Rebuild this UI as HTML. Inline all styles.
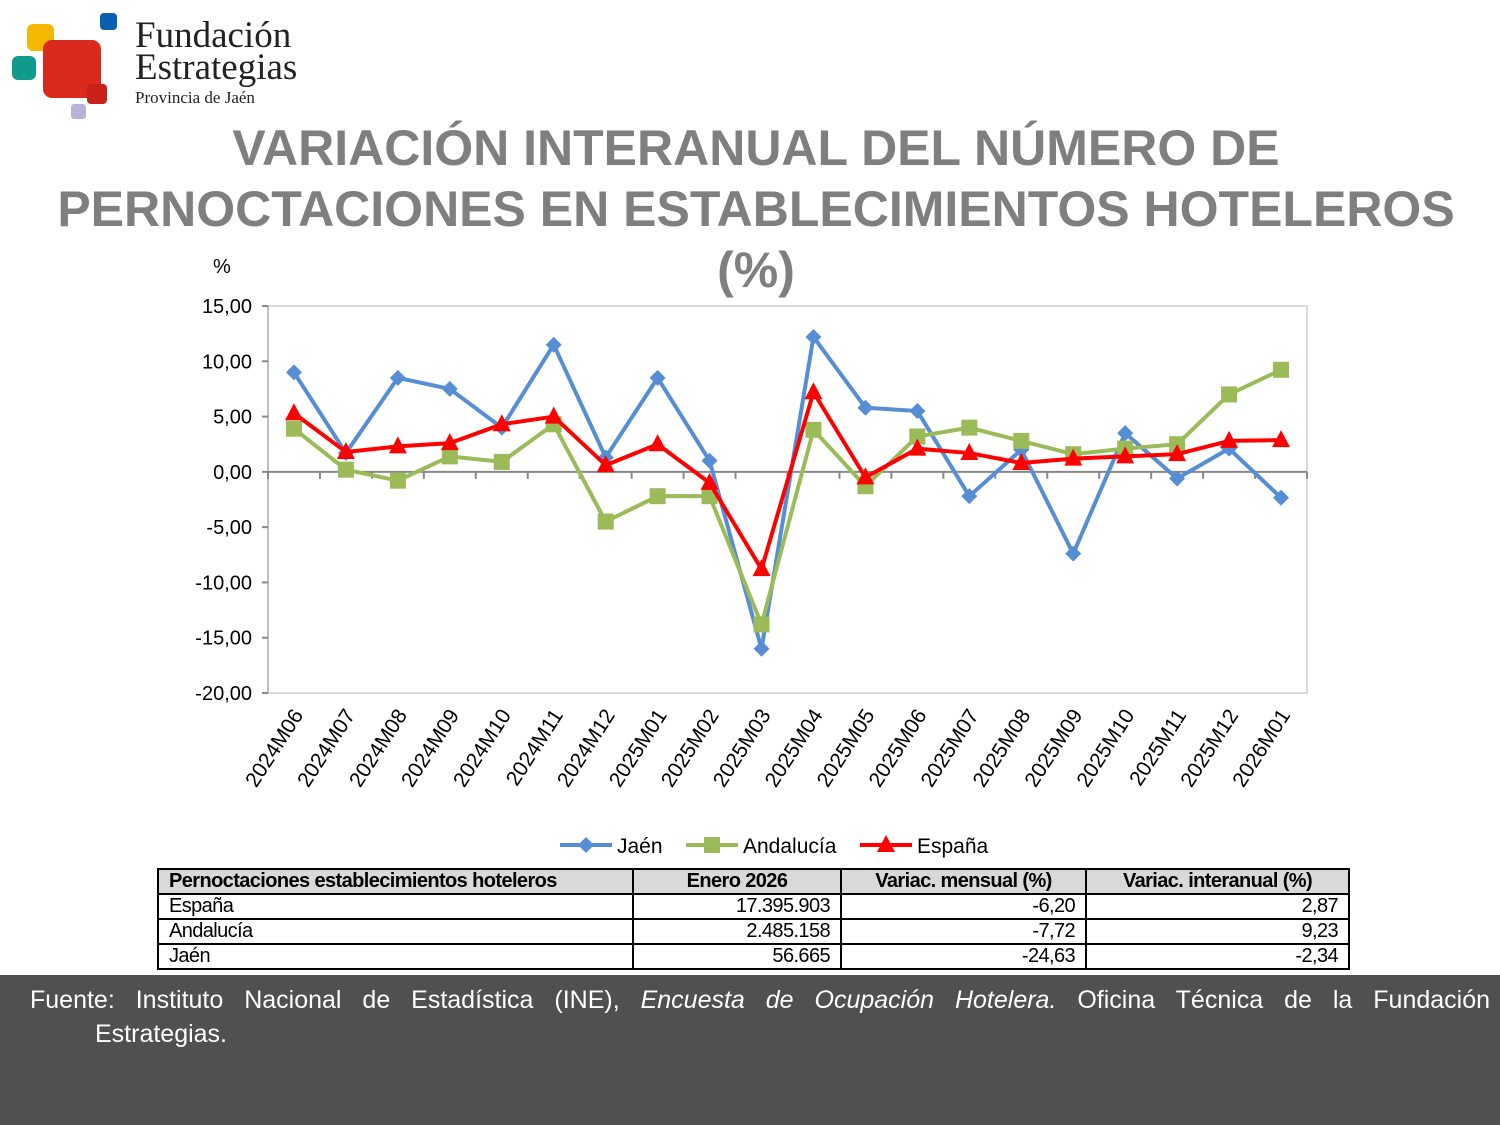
<!DOCTYPE html>
<html><head><meta charset="utf-8">
<style>
body{margin:0;width:1500px;height:1125px;background:#fff;position:relative;overflow:hidden;font-family:"Liberation Sans",sans-serif}
.abs{position:absolute}
table{border-collapse:collapse;position:absolute;left:157px;top:868px;width:1191px;table-layout:fixed;font-size:20px;letter-spacing:-0.6px}
td{border:2px solid #000;height:23px;padding:0 10px;line-height:23px;overflow:hidden;white-space:nowrap}
th{border:2px solid #000;height:23px;line-height:23px;background:#d9d9d9;font-size:20px;padding:0 10px;white-space:nowrap;overflow:hidden}
</style></head><body>
<div class="abs" style="left:0;top:0;width:320px;height:125px">
 <div class="abs" style="left:27px;top:24px;width:27px;height:27px;background:#f5b800;border-radius:6px"></div>
 <div class="abs" style="left:12px;top:56px;width:24px;height:24px;background:#0f9a8c;border-radius:6px"></div>
 <div class="abs" style="left:100px;top:13px;width:17px;height:17px;background:#0a5fb0;border-radius:4px"></div>
 <div class="abs" style="left:43px;top:40px;width:58px;height:58px;background:#dc291e;border-radius:9px"></div>
 <div class="abs" style="left:87px;top:84px;width:20px;height:20px;background:#c9201a;border-radius:4px"></div>
 <div class="abs" style="left:71px;top:104px;width:15px;height:15px;background:#b9b3da;border-radius:3px"></div>
 <div class="abs" style="left:135px;top:20px;font-family:'Liberation Serif',serif;color:#222;font-size:37px;line-height:32px">Fundación<br>Estrategias<div style="font-size:17px;line-height:20px;margin-top:4px">Provincia de Jaén</div></div>
</div>
<div class="abs" style="left:0;top:118px;width:1512px;text-align:center;font-weight:bold;font-size:50px;line-height:61px;color:#7f7f7f">VARIACIÓN INTERANUAL DEL NÚMERO DE<br>PERNOCTACIONES EN ESTABLECIMIENTOS HOTELEROS<br>(%)</div>
<svg class="abs" style="left:0;top:0" width="1500" height="870">
<g id="chart"></g>
</svg>
<table>
<colgroup><col style="width:475px"><col style="width:208px"><col style="width:245px"><col style="width:263px"></colgroup>
<tr><th style="text-align:left">Pernoctaciones establecimientos hoteleros</th><th>Enero 2026</th><th>Variac. mensual (%)</th><th>Variac. interanual (%)</th></tr>
<tr><td>España</td><td align="right">17.395.903</td><td align="right">-6,20</td><td align="right">2,87</td></tr>
<tr><td>Andalucía</td><td align="right">2.485.158</td><td align="right">-7,72</td><td align="right">9,23</td></tr>
<tr><td>Jaén</td><td align="right">56.665</td><td align="right">-24,63</td><td align="right">-2,34</td></tr>
</table>
<div class="abs" style="left:0;top:975px;width:1500px;height:150px;background:#505050;color:#fff;font-size:25px;line-height:34px">
<div style="padding:8px 10px 0 30px;text-align:justify;text-align-last:justify">Fuente: Instituto Nacional de Estadística (INE), <i>Encuesta de Ocupación Hotelera.</i> Oficina Técnica de la Fundación</div>
<div style="padding-left:95px">Estrategias.</div>
</div>
<script>
const categories=["2024M06","2024M07","2024M08","2024M09","2024M10","2024M11","2024M12","2025M01","2025M02","2025M03","2025M04","2025M05","2025M06","2025M07","2025M08","2025M09","2025M10","2025M11","2025M12","2026M01"];
const jaen=[9.0,1.7,8.5,7.5,4.0,11.5,1.3,8.5,1.0,-16.0,12.2,5.8,5.5,-2.2,2.0,-7.4,3.5,-0.6,2.1,-2.34];
const andalucia=[3.9,0.2,-0.8,1.4,0.9,4.3,-4.5,-2.2,-2.2,-13.8,3.8,-1.3,3.2,4.0,2.8,1.6,2.1,2.5,7.0,9.23];
const espana=[5.3,1.8,2.3,2.6,4.3,5.0,0.6,2.5,-1.0,-8.8,7.2,-0.5,2.1,1.7,0.8,1.2,1.4,1.6,2.8,2.87];
const yTicks=[15,10,5,0,-5,-10,-15,-20];
const yMin=-20,yMax=15;
const L=268,R=1307,T=306,B=693;
const ns="http://www.w3.org/2000/svg";
const g=document.getElementById('chart');
const bw=(R-L)/categories.length;
const xs=i=>L+bw*(i+0.5);
const ys=v=>T+(yMax-v)/(yMax-yMin)*(B-T);
function mk(t,a){const e=document.createElementNS(ns,t);for(const k in a)e.setAttribute(k,a[k]);g.appendChild(e);return e;}
let e=mk('rect',{x:L,y:T,width:R-L,height:B-T,fill:'none',stroke:'#d9d9d9','stroke-width':2});


mk('line',{x1:L,y1:T,x2:L,y2:B,stroke:'#bfbfbf','stroke-width':2});
yTicks.forEach(v=>{
 mk('line',{x1:L-6,y1:ys(v),x2:L,y2:ys(v),stroke:'#888','stroke-width':2});
 const t=mk('text',{x:L-16,y:ys(v)+7,'text-anchor':'end','font-size':20,fill:'#000'});
 t.textContent=v.toFixed(2).replace('.',',');
 
 
});
let u=mk('text',{x:213,y:273,'font-size':20});u.textContent='%';


mk('line',{x1:L,y1:ys(0),x2:R,y2:ys(0),stroke:'#888','stroke-width':2});
for(let i=0;i<=categories.length;i++){mk('line',{x1:L+bw*i,y1:ys(0),x2:L+bw*i,y2:ys(0)+7,stroke:'#888','stroke-width':2});}
categories.forEach((c,i)=>{
 const t=mk('text',{x:xs(i)+10,y:715,'text-anchor':'end','font-size':21,transform:`rotate(-57 ${xs(i)+10} 715)`});
 t.textContent=c;
 
 
});
function marker(type,x,y,col,sz){
 if(type==='d')return mk('polygon',{points:`${x},${y-8} ${x+8},${y} ${x},${y+8} ${x-8},${y}`,fill:col});
 if(type==='s')return mk('rect',{x:x-8,y:y-8,width:16,height:16,fill:col});
 return mk('polygon',{points:`${x},${y-10} ${x+9},${y+7} ${x-9},${y+7}`,fill:col});
}
function series(arr,col,type,name){
 const p=mk('polyline',{points:arr.map((v,i)=>xs(i)+','+ys(v)).join(' '),fill:'none',stroke:col,'stroke-width':4,'stroke-linejoin':'round'});
 
 
 arr.forEach((v,i)=>{const m=marker(type,xs(i),ys(v),col);
  
  });
}
series(jaen,'#558ed5','d','jaen');
series(andalucia,'#9bbb59','s','andalucia');
series(espana,'#ff0000','t','espana');
const leg=[['Jaén','#558ed5','d',560],['Andalucía','#9bbb59','s',686],['España','#ff0000','t',860]];
leg.forEach(l=>{
 mk('line',{x1:l[3],y1:845,x2:l[3]+52,y2:845,stroke:l[1],'stroke-width':4});
 marker(l[2],l[3]+26,845,l[1]);
 const t=mk('text',{x:l[3]+57,y:853,'font-size':21});t.textContent=l[0];
 
 
});
</script>
</body></html>
